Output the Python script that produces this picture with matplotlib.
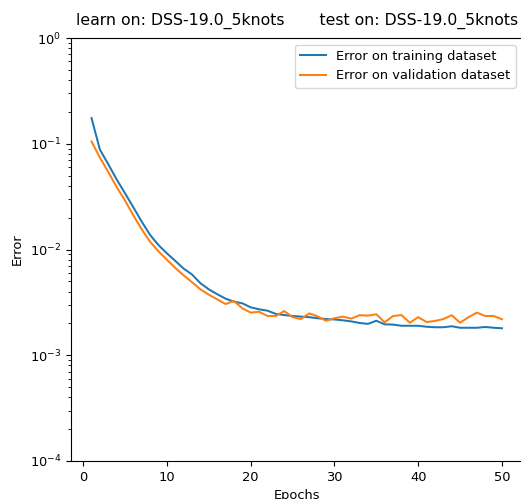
import numpy as np
import matplotlib
matplotlib.use("Agg")
import matplotlib.pyplot as plt

epochs = np.arange(1, 51)

train_error = [
    0.175, 0.088, 0.064, 0.046, 0.034, 0.025, 0.0183, 0.0137, 0.0110, 0.0092,
    0.0078, 0.0066, 0.0058, 0.0048, 0.0042, 0.00378, 0.00343, 0.00321, 0.0031, 0.00284,
    0.00272, 0.00264, 0.00246, 0.0024, 0.00235, 0.00232, 0.00229, 0.00224, 0.0022, 0.00218,
    0.00214, 0.00209, 0.00202, 0.00198, 0.00212, 0.00196, 0.00195, 0.0019, 0.0019, 0.0019,
    0.00186, 0.00184, 0.00184, 0.00188, 0.00182, 0.00182, 0.00182, 0.00185, 0.00182, 0.0018,
]

val_error = [
    0.105, 0.074, 0.054, 0.039, 0.029, 0.021, 0.0155, 0.0118, 0.0096, 0.0080,
    0.0067, 0.0057, 0.0049, 0.0042, 0.00374, 0.00338, 0.00305, 0.00326, 0.00278, 0.00253,
    0.00258, 0.00235, 0.00235, 0.00262, 0.00229, 0.0022, 0.00249, 0.00233, 0.00212, 0.00224,
    0.00232, 0.00222, 0.00239, 0.00237, 0.00244, 0.00205, 0.00235, 0.0024, 0.00203, 0.00229,
    0.00206, 0.00211, 0.0022, 0.00239, 0.00203, 0.00229, 0.00253, 0.00235, 0.00235, 0.00219,
]

learn_set = "DSS-19.0_5knots"
test_set = "DSS-19.0_5knots"

plt.rcParams["font.size"] = 9.4
plt.rcParams["lines.linewidth"] = 1.45

fig = plt.figure(figsize=(5.21, 4.99), dpi=100)
ax = fig.add_axes([71 / 521, 38 / 499, 451.5 / 521, 423 / 499])

ax.plot(epochs, train_error, label="Error on training dataset")
ax.plot(epochs, val_error, label="Error on validation dataset")

ax.set_yscale("log")
ax.set_ylim(1e-4, 1e0)
ax.set_xlabel("Epochs")
ax.set_ylabel("Error")
ax.set_title("learn on: " + learn_set + "       test on: " + test_set,
             fontsize=11.3, pad=9.5)
ax.legend(loc="upper right")

fig.savefig("out.png", dpi=100)
